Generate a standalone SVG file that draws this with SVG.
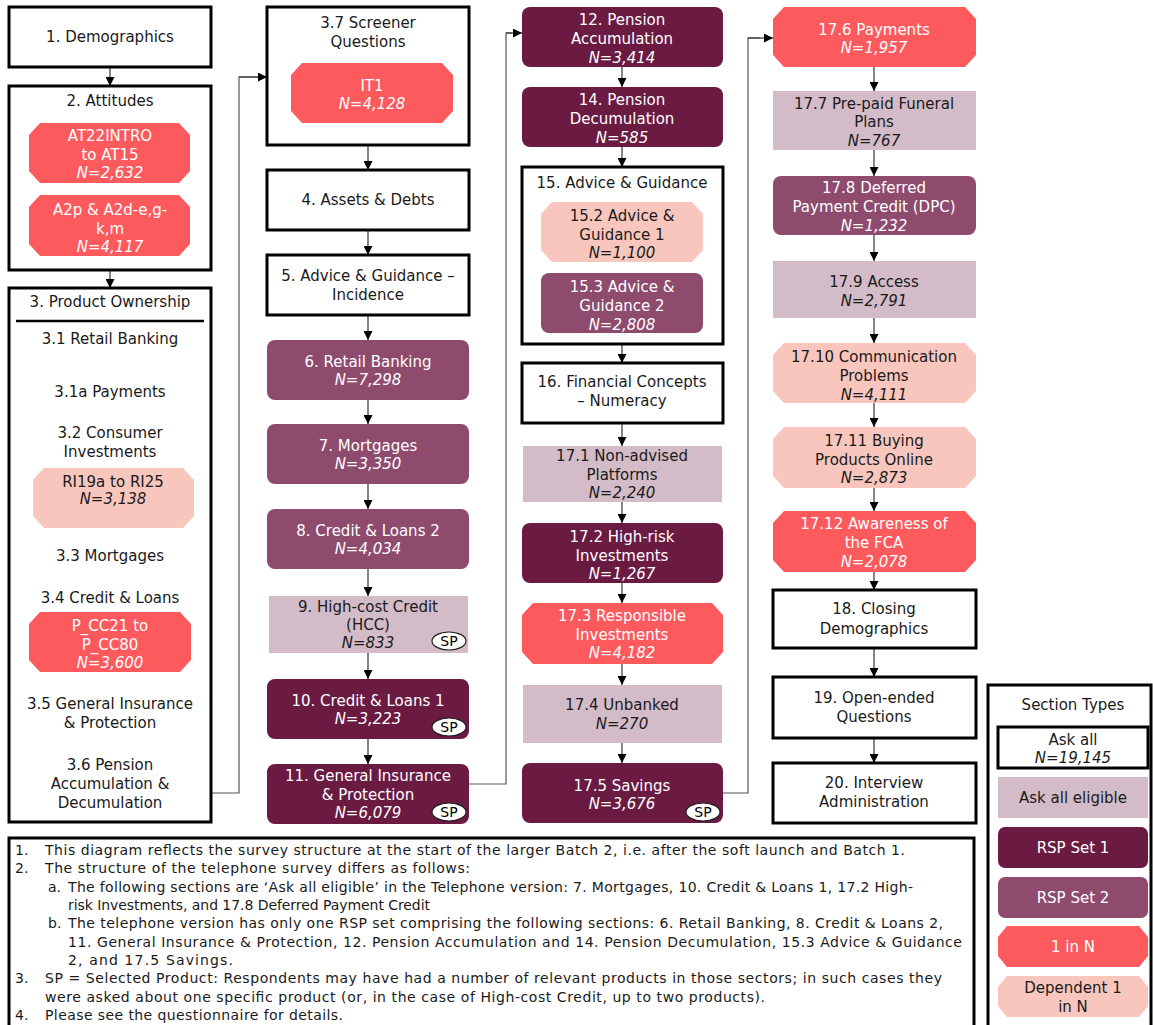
<svg xmlns="http://www.w3.org/2000/svg" width="1153" height="1025" viewBox="0 0 1153 1025">
<defs>
<style>
.bx{fill:#fff;stroke:#000;stroke-width:3}
.red{fill:#FD5A5E}
.pink{fill:#F8C6BD}
.r1{fill:#6B1A42}
.r2{fill:#8E4B6E}
.el{fill:#D3BBC7}
text{font-family:"DejaVu Sans",Verdana,sans-serif;font-size:15px;text-anchor:middle;dominant-baseline:central;fill:#1a1a1a}
.w{fill:#fff}
.n{font-style:italic}
.fn{font-size:14px;text-anchor:start}
.sp{fill:#fff;stroke:#222;stroke-width:1.2}
.spt{font-size:14px;fill:#000}
.cn{fill:none;stroke:#555;stroke-width:1.2}
.ar{stroke:#333;stroke-width:1.2;marker-end:url(#ah)}
</style>
<marker id="ah" viewBox="0 0 10 10" refX="10" refY="5" markerWidth="9" markerHeight="9" markerUnits="userSpaceOnUse" orient="auto"><path d="M0,0 L10,5 L0,10 z" fill="#000"/></marker>
</defs>
<rect width="1153" height="1025" fill="#fff"/>

<g id="connectors">
<path class="cn" d="M211,793 H239 V77 H258"/>
<line class="ar" x1="239" y1="77" x2="267" y2="77"/>
<path class="cn" d="M469,784 H506 V33 H512"/>
<line class="ar" x1="506" y1="33" x2="522" y2="33"/>
<path class="cn" d="M723,793 H748 V38 H760"/>
<line class="ar" x1="748" y1="38" x2="773" y2="38"/>
<line class="ar" x1="110" y1="67" x2="110" y2="86"/>
<line class="ar" x1="110" y1="270" x2="110" y2="288"/>
<line class="ar" x1="368" y1="145" x2="368" y2="170"/>
<line class="ar" x1="368" y1="230" x2="368" y2="255"/>
<line class="ar" x1="368" y1="315" x2="368" y2="340"/>
<line class="ar" x1="368" y1="400" x2="368" y2="424"/>
<line class="ar" x1="368" y1="484" x2="368" y2="509"/>
<line class="ar" x1="368" y1="569" x2="368" y2="596"/>
<line class="ar" x1="368" y1="653" x2="368" y2="679"/>
<line class="ar" x1="368" y1="739" x2="368" y2="764"/>
<line class="ar" x1="622" y1="67" x2="622" y2="87"/>
<line class="ar" x1="622" y1="147" x2="622" y2="167"/>
<line class="ar" x1="622" y1="344" x2="622" y2="363"/>
<line class="ar" x1="622" y1="423" x2="622" y2="446"/>
<line class="ar" x1="622" y1="502" x2="622" y2="523"/>
<line class="ar" x1="622" y1="583" x2="622" y2="603"/>
<line class="ar" x1="622" y1="664" x2="622" y2="685"/>
<line class="ar" x1="622" y1="743" x2="622" y2="763"/>
<line class="ar" x1="874" y1="67" x2="874" y2="91"/>
<line class="ar" x1="874" y1="150" x2="874" y2="176"/>
<line class="ar" x1="874" y1="235" x2="874" y2="261"/>
<line class="ar" x1="874" y1="318" x2="874" y2="343"/>
<line class="ar" x1="874" y1="403" x2="874" y2="427"/>
<line class="ar" x1="874" y1="488" x2="874" y2="511"/>
<line class="ar" x1="874" y1="572" x2="874" y2="590"/>
<line class="ar" x1="874" y1="648" x2="874" y2="677"/>
<line class="ar" x1="874" y1="738" x2="874" y2="763"/>
</g>

<!-- Column 1 -->
<g id="n1"><rect class="bx" x="9" y="7" width="202" height="60"/><text x="110" y="37">1. Demographics</text></g>
<g id="n2"><rect class="bx" x="9" y="86" width="202" height="184"/><text x="110" y="101">2. Attitudes</text>
<polygon class="red" points="40,123 179,123 190,135 190,171 179,183 40,183 29,171 29,135"/>
<text class="w" x="110" y="136">AT22INTRO</text><text class="w" x="110" y="155">to AT15</text><text class="w n" x="110" y="173">N=2,632</text>
<polygon class="red" points="40,195 179,195 190,207 190,244 179,256 40,256 29,244 29,207"/>
<text class="w" x="110" y="210">A2p &amp; A2d-e,g-</text><text class="w" x="110" y="229">k,m</text><text class="w n" x="110" y="247">N=4,117</text></g>
<g id="n3"><rect class="bx" x="9" y="288" width="202" height="534"/>
<text x="110" y="302">3. Product Ownership</text>
<line x1="16" y1="321" x2="204" y2="321" stroke="#000" stroke-width="2.5"/>
<text x="110" y="339">3.1 Retail Banking</text>
<text x="110" y="392">3.1a Payments</text>
<text x="110" y="433">3.2 Consumer</text><text x="110" y="452">Investments</text>
<polygon class="pink" points="44,468 183,468 194,480 194,516 183,528 44,528 33,516 33,480"/>
<text x="113" y="482">RI19a to RI25</text><text class="n" x="113" y="499">N=3,138</text>
<text x="110" y="556">3.3 Mortgages</text>
<text x="110" y="598">3.4 Credit &amp; Loans</text>
<polygon class="red" points="40,612 180,612 191,624 191,660 180,672 40,672 29,660 29,624"/>
<text class="w" x="110" y="626">P_CC21 to</text><text class="w" x="110" y="645">P_CC80</text><text class="w n" x="110" y="663">N=3,600</text>
<text x="110" y="704">3.5 General Insurance</text><text x="110" y="723">&amp; Protection</text>
<text x="110" y="765">3.6 Pension</text><text x="110" y="784">Accumulation &amp;</text><text x="110" y="803">Decumulation</text>
</g>

<!-- Column 2 -->
<g id="n37"><rect class="bx" x="267" y="7" width="202" height="138"/>
<text x="368" y="23">3.7 Screener</text><text x="368" y="42">Questions</text>
<polygon class="red" points="302,63 442,63 453,75 453,111 442,123 302,123 291,111 291,75"/>
<text class="w" x="372" y="86">IT1</text><text class="w n" x="372" y="104">N=4,128</text></g>
<g id="n4"><rect class="bx" x="267" y="170" width="202" height="60"/><text x="368" y="200">4. Assets &amp; Debts</text></g>
<g id="n5"><rect class="bx" x="267" y="255" width="202" height="60"/><text x="368" y="276">5. Advice &amp; Guidance –</text><text x="368" y="295">Incidence</text></g>
<g id="n6"><rect class="r2" x="267" y="340" width="202" height="60" rx="8"/><text class="w" x="368" y="362">6. Retail Banking</text><text class="w n" x="368" y="380">N=7,298</text></g>
<g id="n7"><rect class="r2" x="267" y="424" width="202" height="60" rx="8"/><text class="w" x="368" y="446">7. Mortgages</text><text class="w n" x="368" y="464">N=3,350</text></g>
<g id="n8"><rect class="r2" x="267" y="509" width="202" height="60" rx="8"/><text class="w" x="368" y="531">8. Credit &amp; Loans 2</text><text class="w n" x="368" y="549">N=4,034</text></g>
<g id="n9"><rect class="el" x="269" y="596" width="199" height="57"/><text x="368" y="607">9. High-cost Credit</text><text x="368" y="625">(HCC)</text><text class="n" x="368" y="643">N=833</text>
<ellipse class="sp" cx="449" cy="641" rx="17" ry="9"/><text class="spt" x="449" y="641">SP</text></g>
<g id="n10"><rect class="r1" x="267" y="679" width="202" height="60" rx="8"/><text class="w" x="368" y="701">10. Credit &amp; Loans 1</text><text class="w n" x="368" y="719">N=3,223</text>
<ellipse class="sp" cx="449" cy="727" rx="17" ry="9"/><text class="spt" x="449" y="727">SP</text></g>
<g id="n11"><rect class="r1" x="267" y="764" width="202" height="60" rx="8"/><text class="w" x="368" y="776">11. General Insurance</text><text class="w" x="368" y="795">&amp; Protection</text><text class="w n" x="368" y="813">N=6,079</text>
<ellipse class="sp" cx="449" cy="812" rx="17" ry="9"/><text class="spt" x="449" y="812">SP</text></g>

<!-- Column 3 -->
<g id="n12"><rect class="r1" x="522" y="7" width="201" height="60" rx="8"/><text class="w" x="622" y="20">12. Pension</text><text class="w" x="622" y="39">Accumulation</text><text class="w n" x="622" y="58">N=3,414</text></g>
<g id="n14"><rect class="r1" x="522" y="87" width="201" height="60" rx="8"/><text class="w" x="622" y="100">14. Pension</text><text class="w" x="622" y="119">Decumulation</text><text class="w n" x="622" y="138">N=585</text></g>
<g id="n15"><rect class="bx" x="522" y="167" width="201" height="177"/><text x="622" y="183">15. Advice &amp; Guidance</text>
<polygon class="pink" points="552,202 692,202 703,214 703,250 692,262 552,262 541,250 541,214"/>
<text x="622" y="216">15.2 Advice &amp;</text><text x="622" y="235">Guidance 1</text><text class="n" x="622" y="253">N=1,100</text>
<rect class="r2" x="541" y="273" width="162" height="60" rx="8"/>
<text class="w" x="622" y="287">15.3 Advice &amp;</text><text class="w" x="622" y="306">Guidance 2</text><text class="w n" x="622" y="325">N=2,808</text></g>
<g id="n16"><rect class="bx" x="522" y="363" width="201" height="60"/><text x="622" y="382">16. Financial Concepts</text><text x="622" y="401">– Numeracy</text></g>
<g id="n171"><rect class="el" x="523" y="446" width="199" height="56"/><text x="622" y="456">17.1 Non-advised</text><text x="622" y="475">Platforms</text><text class="n" x="622" y="493">N=2,240</text></g>
<g id="n172"><rect class="r1" x="522" y="523" width="201" height="60" rx="8"/><text class="w" x="622" y="537">17.2 High-risk</text><text class="w" x="622" y="556">Investments</text><text class="w n" x="622" y="574">N=1,267</text></g>
<g id="n173"><polygon class="red" points="533,603 712,603 723,615 723,652 712,664 533,664 522,652 522,615"/><text class="w" x="622" y="616">17.3 Responsible</text><text class="w" x="622" y="635">Investments</text><text class="w n" x="622" y="653">N=4,182</text></g>
<g id="n174"><rect class="el" x="523" y="685" width="199" height="58"/><text x="622" y="705">17.4 Unbanked</text><text class="n" x="622" y="724">N=270</text></g>
<g id="n175"><rect class="r1" x="522" y="763" width="201" height="60" rx="8"/><text class="w" x="622" y="786">17.5 Savings</text><text class="w n" x="622" y="804">N=3,676</text>
<ellipse class="sp" cx="703" cy="812" rx="17" ry="9"/><text class="spt" x="703" y="812">SP</text></g>

<!-- Column 4 -->
<g id="n176"><polygon class="red" points="784,7 965,7 976,19 976,55 965,67 784,67 773,55 773,19"/><text class="w" x="874" y="30">17.6 Payments</text><text class="w n" x="874" y="48">N=1,957</text></g>
<g id="n177"><rect class="el" x="773" y="91" width="203" height="59"/><text x="874" y="104">17.7 Pre-paid Funeral</text><text x="874" y="122">Plans</text><text class="n" x="874" y="141">N=767</text></g>
<g id="n178"><rect class="r2" x="773" y="176" width="203" height="59" rx="8"/><text class="w" x="874" y="188">17.8 Deferred</text><text class="w" x="874" y="207">Payment Credit (DPC)</text><text class="w n" x="874" y="226">N=1,232</text></g>
<g id="n179"><rect class="el" x="773" y="261" width="203" height="57"/><text x="874" y="282">17.9 Access</text><text class="n" x="874" y="301">N=2,791</text></g>
<g id="n1710"><polygon class="pink" points="784,343 965,343 976,355 976,391 965,403 784,403 773,391 773,355"/><text x="874" y="357">17.10 Communication</text><text x="874" y="376">Problems</text><text class="n" x="874" y="395">N=4,111</text></g>
<g id="n1711"><polygon class="pink" points="784,427 965,427 976,439 976,476 965,488 784,488 773,476 773,439"/><text x="874" y="441">17.11 Buying</text><text x="874" y="460">Products Online</text><text class="n" x="874" y="478">N=2,873</text></g>
<g id="n1712"><polygon class="red" points="784,511 965,511 976,523 976,560 965,572 784,572 773,560 773,523"/><text class="w" x="874" y="524">17.12 Awareness of</text><text class="w" x="874" y="543">the FCA</text><text class="w n" x="874" y="562">N=2,078</text></g>
<g id="n18"><rect class="bx" x="773" y="590" width="203" height="58"/><text x="874" y="609">18. Closing</text><text x="874" y="629">Demographics</text></g>
<g id="n19"><rect class="bx" x="773" y="677" width="203" height="61"/><text x="874" y="698">19. Open-ended</text><text x="874" y="717">Questions</text></g>
<g id="n20"><rect class="bx" x="773" y="763" width="203" height="60"/><text x="874" y="783">20. Interview</text><text x="874" y="802">Administration</text></g>

<!-- Legend -->
<g id="legend">
<rect class="bx" x="988" y="685" width="163" height="345"/>
<text x="1073" y="705">Section Types</text>
<rect class="bx" x="998" y="727" width="150" height="41"/>
<text x="1073" y="740">Ask all</text><text class="n" x="1073" y="758">N=19,145</text>
<rect class="el" x="998" y="777" width="150" height="41"/><text x="1073" y="798">Ask all eligible</text>
<rect class="r1" x="998" y="827" width="150" height="41" rx="7"/><text class="w" x="1073" y="848">RSP Set 1</text>
<rect class="r2" x="998" y="877" width="150" height="41" rx="7"/><text class="w" x="1073" y="898">RSP Set 2</text>
<polygon class="red" points="1007,926 1139,926 1148,937 1148,956 1139,967 1007,967 998,956 998,937"/><text class="w" x="1073" y="947">1 in N</text>
<polygon class="pink" points="1007,976 1139,976 1148,987 1148,1006 1139,1017 1007,1017 998,1006 998,987"/><text x="1073" y="988">Dependent 1</text><text x="1073" y="1007">in N</text>
</g>

<!-- Footnotes -->
<g id="footnotes">
<rect class="bx" x="9" y="838" width="965" height="192"/>
<text class="fn" x="15" y="850">1.</text><text class="fn" x="45" y="850" textLength="860">This diagram reflects the survey structure at the start of the larger Batch 2, i.e. after the soft launch and Batch 1.</text>
<text class="fn" x="15" y="868">2.</text><text class="fn" x="45" y="868" textLength="425">The structure of the telephone survey differs as follows:</text>
<text class="fn" x="48" y="887">a.</text><text class="fn" x="68" y="887" textLength="845">The following sections are ‘Ask all eligible’ in the Telephone version: 7. Mortgages, 10. Credit &amp; Loans 1, 17.2 High-</text>
<text class="fn" x="68" y="905" textLength="362">risk Investments, and 17.8 Deferred Payment Credit</text>
<text class="fn" x="48" y="923">b.</text><text class="fn" x="68" y="923" textLength="875">The telephone version has only one RSP set comprising the following sections: 6. Retail Banking, 8. Credit &amp; Loans 2,</text>
<text class="fn" x="68" y="942" textLength="894">11. General Insurance &amp; Protection, 12. Pension Accumulation and 14. Pension Decumulation, 15.3 Advice &amp; Guidance</text>
<text class="fn" x="68" y="960" textLength="165">2, and 17.5 Savings.</text>
<text class="fn" x="15" y="978">3.</text><text class="fn" x="45" y="978" textLength="897">SP = Selected Product: Respondents may have had a number of relevant products in those sectors; in such cases they</text>
<text class="fn" x="45" y="997" textLength="720">were asked about one specific product (or, in the case of High-cost Credit, up to two products).</text>
<text class="fn" x="15" y="1015">4.</text><text class="fn" x="45" y="1015" textLength="298">Please see the questionnaire for details.</text>
</g>
</svg>
